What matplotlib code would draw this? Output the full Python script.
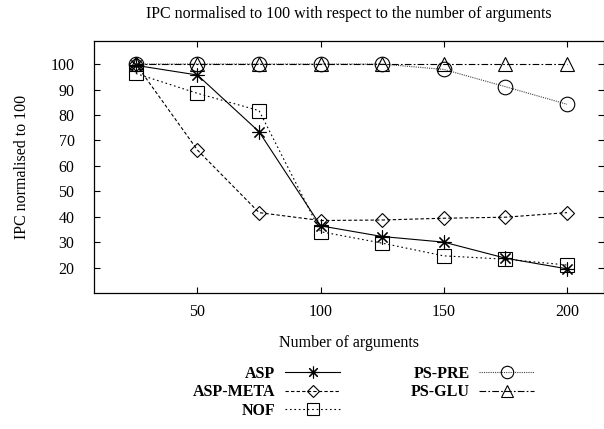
import matplotlib
matplotlib.use("Agg")
import matplotlib.pyplot as plt

plt.rcParams['font.family'] = ['Liberation Serif', 'DejaVu Serif']
plt.rcParams['font.size'] = 11.5

# Data
n_args = [25, 50, 75, 100, 125, 150, 175, 200]
asp = [99.5, 95.7, 73.4, 36.4, 32.2, 30.0, 23.7, 19.5]
asp_meta = [100, 66.2, 41.6, 38.5, 38.7, 39.4, 39.8, 41.6]
nof = [96.3, 88.5, 81.7, 34.1, 29.6, 24.6, 23.3, 21.0]
ps_pre = [100, 100, 100, 100, 100, 97.9, 91.1, 84.2]
ps_glu = [100, 100, 100, 100, 100, 100, 100, 100]

fig = plt.figure(figsize=(6.04, 4.29), dpi=100)
ax = fig.add_axes([0.1556, 0.317, 0.8444, 0.587])

lw = 0.8
ax.plot(n_args, asp, color='black', lw=lw, ls='-', marker=(8, 2, 0), ms=10,
        mew=lw, label='ASP')
ax.plot(n_args, asp_meta, color='black', lw=lw, ls=(0, (3, 2)), marker='D', ms=7.5,
        mfc='none', mew=lw, label='ASP-META')
ax.plot(n_args, nof, color='black', lw=lw, ls=(0, (1.5, 2.5)), marker='s', ms=10.5,
        mfc='none', mew=lw, label='NOF')
ax.plot(n_args, ps_pre, color='#444444', lw=lw, ls=(0, (1, 1)), marker='o', ms=10.5,
        mfc='none', mec='black', mew=lw, label='PS-PRE')
ax.plot(n_args, ps_glu, color='black', lw=lw, ls=(0, (6, 2, 1.5, 2)), marker='^', ms=10.5,
        mfc='none', mew=lw, label='PS-GLU')

ax.set_xlim(8, 215)
ax.set_ylim(10, 109)
ax.set_xticks([50, 100, 150, 200])
ax.set_yticks(range(20, 101, 10))
ax.tick_params(direction='in', top=True, right=True, length=4, width=0.8, labelsize=11.5)
ax.tick_params(axis='y', pad=14)
ax.tick_params(axis='x', pad=8)
for s in ax.spines.values():
    s.set_linewidth(0.9)

ax.set_title('IPC normalised to 100 with respect to the number of arguments', fontsize=11.5, pad=17)
ax.set_xlabel('Number of arguments', fontsize=11.5, labelpad=11)
ax.set_ylabel('IPC normalised to 100', fontsize=11.5, labelpad=15)

leg = ax.legend(ncol=2, markerfirst=False, frameon=False, loc='upper center',
                bbox_to_anchor=(0.602, 0.177), bbox_transform=fig.transFigure,
                handlelength=3.45, columnspacing=4.4, labelspacing=0.15, handletextpad=0.6,
                borderpad=0.3, markerscale=0.85, prop={'weight': 'bold', 'size': 11.5})

fig.savefig('out.png', dpi=100)
